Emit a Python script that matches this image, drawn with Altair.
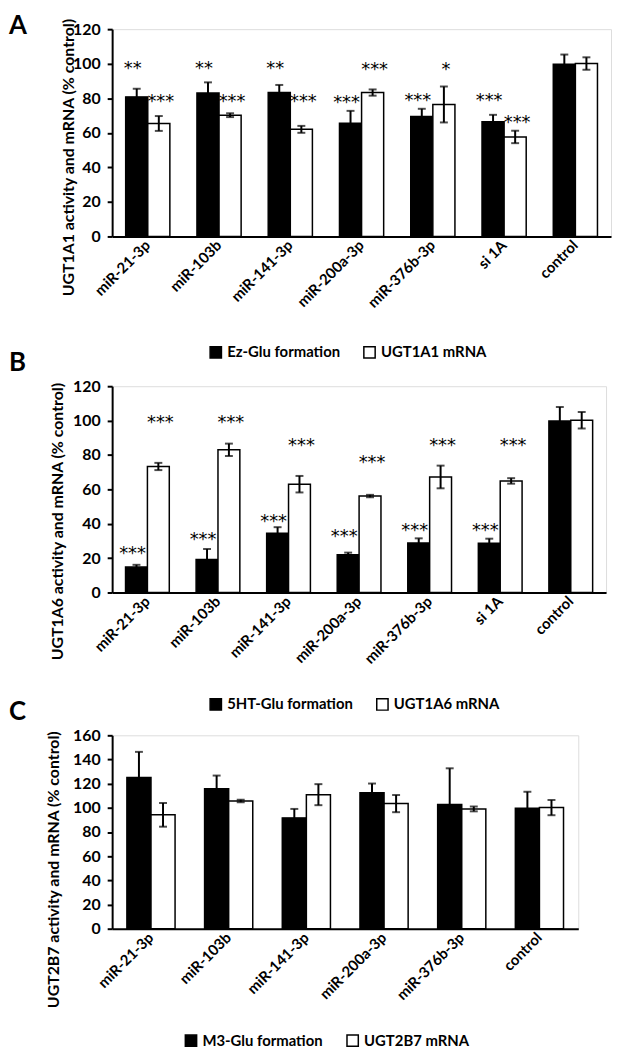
import altair as alt
import pandas as pd

FONT = "Lato"
STAR_FONT = "DejaVu Sans"

# ---------------- data ----------------
cats_ab = ["miR-21-3p", "miR-103b", "miR-141-3p", "miR-200a-3p", "miR-376b-3p", "si 1A", "control"]
cats_c = ["miR-21-3p", "miR-103b", "miR-141-3p", "miR-200a-3p", "miR-376b-3p", "control"]

# Panel A (UGT1A1)
a_series = ["Ez-Glu formation", "UGT1A1 mRNA"]
a_act = [80.8, 83.1, 83.4, 65.5, 69.5, 66.4, 99.7]
a_act_err = [4.7, 6.1, 4.3, 7.2, 4.4, 4.0, 5.6]
a_mrna = [65.4, 70.2, 62.0, 83.3, 76.4, 57.6, 100.1]
a_mrna_err = [4.3, 1.1, 2.0, 1.8, 10.4, 3.6, 3.6]
a_act_star = ["**", "**", "**", "***", "***", "***"]
a_act_star_y = [99.5, 99.5, 99.5, 80.0, 81.0, 81.0]
a_mrna_star = ["***", "***", "***", "***", "*", "***"]
a_mrna_star_y = [80.8, 80.8, 80.8, 99.1, 99.0, 68.7]

# Panel B (UGT1A6)
b_series = ["5HT-Glu formation", "UGT1A6 mRNA"]
b_act = [14.8, 19.2, 34.4, 21.9, 28.8, 28.6, 99.8]
b_act_err = [1.3, 6.1, 3.6, 1.3, 2.7, 2.7, 8.1]
b_mrna = [73.3, 83.0, 63.0, 56.1, 67.2, 64.9, 100.2]
b_mrna_err = [2.1, 3.6, 4.8, 0.7, 6.6, 1.6, 4.8]
b_act_star = ["***", "***", "***", "***", "***", "***"]
b_act_star_y = [25.3, 33.4, 44.0, 34.9, 38.8, 38.8]
b_mrna_star = ["***", "***", "***", "***", "***", "***"]
b_mrna_star_y = [101.6, 101.6, 88.1, 78.1, 88.1, 88.1]

# Panel C (UGT2B7)
c_series = ["M3-Glu formation", "UGT2B7 mRNA"]
c_act = [125.0, 115.8, 91.7, 112.5, 102.7, 99.7]
c_act_err = [21.3, 10.9, 7.4, 7.6, 30.0, 13.6]
c_mrna = [94.2, 105.7, 110.9, 103.5, 99.1, 100.2]
c_mrna_err = [9.8, 1.0, 8.7, 7.1, 2.0, 6.3]

y_titles = [
    "UGT1A1 activity and mRNA (% control)",
    "UGT1A6 activity and mRNA (% control)",
    "UGT2B7 activity and mRNA (% control)",
]


def make_panel(cats, series, act, act_err, mrna, mrna_err, act_star, act_star_y,
               mrna_star, mrna_star_y, ytitle, ymax, ystep, width, height,
               title_x, title_y, legend_x, legend_y, letters):
    rows = []
    for i, c in enumerate(cats):
        rows.append(dict(cat=c, series=series[0], value=act[i],
                         lo=act[i] - act_err[i], hi=act[i] + act_err[i]))
        rows.append(dict(cat=c, series=series[1], value=mrna[i],
                         lo=mrna[i] - mrna_err[i], hi=mrna[i] + mrna_err[i]))
    df = pd.DataFrame(rows)

    x = alt.X("cat:N", sort=cats, title=None,
              scale=alt.Scale(type="band", paddingInner=0.38, paddingOuter=0.19),
              axis=alt.Axis(labelAngle=-45, labelAlign="right", labelBaseline="middle",
                            ticks=False, labelPadding=6, domainWidth=2, domainColor="black",
                            labelFontSize=15, labelFontWeight="bold", labelColor="black",
                            labelFont=FONT))
    xo = alt.XOffset("series:N", sort=series,
                     scale=alt.Scale(type="band", paddingInner=0, paddingOuter=0))
    yscale = alt.Scale(domain=[0, ymax])
    yaxis = alt.Axis(values=list(range(0, ymax + 1, ystep)), grid=False,
                     domainWidth=2, domainColor="black", tickWidth=2, tickSize=5,
                     tickColor="black", labelFontSize=16, labelFontWeight="bold",
                     labelColor="black", labelPadding=7, labelFont=FONT,
                     labelOverlap=False,
                     titleFont=FONT, titleFontSize=16, titleFontWeight="bold",
                     titleColor="black", titleAngle=270, titleAlign="center",
                     titleBaseline="alphabetic", titleX=title_x, titleY=title_y)

    def Y(field):
        return alt.Y(field, scale=yscale, title=ytitle, axis=yaxis)

    fill = alt.Fill("series:N", scale=alt.Scale(domain=series, range=["black", "white"]),
                    legend=alt.Legend(orient="none", legendX=legend_x, legendY=legend_y,
                                      direction="horizontal", title=None, symbolType="square",
                                      symbolSize=130, symbolStrokeColor="black",
                                      symbolStrokeWidth=1.5, labelFont=FONT, labelFontSize=15,
                                      labelFontWeight="bold", labelColor="black",
                                      columnPadding=20, labelOffset=4))

    base = alt.Chart(df).encode(x=x, xOffset=xo)
    bars = base.mark_bar(stroke="black", strokeWidth=1.5).encode(y=Y("value:Q"), fill=fill)
    rules = base.mark_rule(color="black", strokeWidth=2).encode(y=Y("lo:Q"), y2="hi:Q")
    cap_hi = base.mark_tick(color="black", thickness=2, size=8).encode(y=Y("hi:Q"))
    cap_lo = base.mark_tick(color="black", thickness=2, size=8).encode(y=Y("lo:Q"))
    layers = [bars, rules, cap_hi, cap_lo]

    # significance stars: one layer per series (activity labels sit slightly left,
    # mRNA labels slightly right, as in the original)
    for k, (stars, sy, ddx) in enumerate([(act_star, act_star_y, -4), (mrna_star, mrna_star_y, 2)]):
        if not stars:
            continue
        sdf = pd.DataFrame({"cat": cats[:len(stars)], "series": [series[k]] * len(stars),
                            "star": stars, "sy": sy})
        layers.append(alt.Chart(sdf).mark_text(font=STAR_FONT, fontSize=18,
                                               baseline="alphabetic", dy=10, dx=ddx).encode(
            x=x, xOffset=xo, y=Y("sy:Q"), text="star:N", color=alt.value("black")))

    for (txt, lx, ly) in letters:
        lt = alt.Chart(pd.DataFrame({"t": [txt]})).mark_text(
            font=FONT, fontSize=26, fontWeight="bold",
            align="left", baseline="top").encode(
            x=alt.value(lx), y=alt.value(ly), text="t:N", color=alt.value("black"))
        layers.append(lt)
    return alt.layer(*layers).properties(width=width, height=height)


pA = make_panel(cats_ab, a_series, a_act, a_act_err, a_mrna, a_mrna_err,
                a_act_star, a_act_star_y, a_mrna_star, a_mrna_star_y, y_titles[0],
                120, 20, 503, 209, -39, 129, 97, 318,
                [("A", -104, -16), ("B", -104, 324)])
pB = make_panel(cats_ab, b_series, b_act, b_act_err, b_mrna, b_mrna_err,
                b_act_star, b_act_star_y, b_mrna_star, b_mrna_star_y, y_titles[1],
                120, 20, 498, 208, -50, 136, 97, 313,
                [("C", -104, 316)])
pC = make_panel(cats_c, c_series, c_act, c_act_err, c_mrna, c_mrna_err,
                [], [], [], [], y_titles[2],
                160, 20, 470, 195, -54, 135, 72, 300, [])

chart = alt.vconcat(pA, pB, pC, spacing=0).resolve_scale(
    x="independent", xOffset="independent", y="independent", fill="independent"
).properties(
    padding={"top": 0, "left": 0, "right": 0, "bottom": 0}
).configure_view(strokeWidth=0).configure(font=FONT)

chart.save("out.html", embed_options={"renderer": "svg", "actions": False})
